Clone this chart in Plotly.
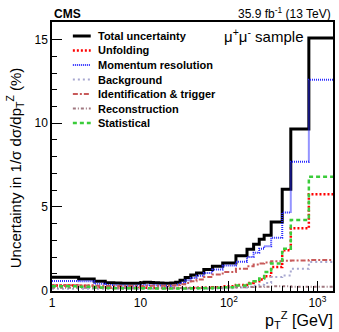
import plotly.graph_objects as go

# ---------------- data ----------------
edges = [1, 2, 3, 4, 5, 6, 7, 8, 9, 10, 11, 12, 13, 14, 16, 18, 20, 22, 25, 28,
         32, 37, 43, 52, 65, 85, 120, 160, 190, 220, 250, 300, 400, 500, 800, 1500]

total = [0.79, 0.68, 0.55, 0.47, 0.45, 0.44, 0.43, 0.43, 0.44, 0.46,
         0.50, 0.50, 0.48, 0.47, 0.45, 0.44, 0.44, 0.45, 0.50, 0.62,
         0.78, 0.92, 1.05, 1.25, 1.45, 1.65, 2.07, 2.47, 2.77, 3.07,
         3.30, 4.10, 6.05, 9.65, 15.1]
unfolding = [0.30, 0.28, 0.20, 0.16, 0.15, 0.15, 0.15, 0.15, 0.15, 0.15,
             0.16, 0.16, 0.15, 0.15, 0.15, 0.15, 0.15, 0.15, 0.15, 0.15,
             0.15, 0.15, 0.16, 0.17, 0.20, 0.25, 0.33, 0.45, 0.55, 0.65,
             0.85, 1.40, 2.40, 3.72, 5.75]
momentum = [0.57, 0.55, 0.40, 0.33, 0.31, 0.30, 0.29, 0.29, 0.30, 0.31,
            0.33, 0.33, 0.32, 0.31, 0.30, 0.29, 0.29, 0.30, 0.34, 0.47,
            0.62, 0.75, 0.88, 1.05, 1.25, 1.50, 1.72, 2.00, 2.25, 2.50,
            2.65, 3.15, 4.66, 7.70, 12.6]
background = [0.10, 0.10, 0.10, 0.10, 0.10, 0.10, 0.10, 0.10, 0.10, 0.10,
              0.10, 0.10, 0.10, 0.10, 0.10, 0.10, 0.10, 0.10, 0.10, 0.10,
              0.10, 0.10, 0.10, 0.11, 0.12, 0.14, 0.18, 0.22, 0.28, 0.35,
              0.45, 0.80, 0.90, 1.30, 1.70]
ident = [0.32, 0.30, 0.28, 0.27, 0.27, 0.27, 0.27, 0.27, 0.27, 0.27,
         0.28, 0.28, 0.28, 0.28, 0.28, 0.28, 0.29, 0.30, 0.33, 0.38,
         0.45, 0.55, 0.65, 0.80, 0.95, 1.10, 1.30, 1.45, 1.55, 1.62,
         1.68, 1.75, 1.78, 1.80, 1.82]
reco = [0.16, 0.16, 0.15, 0.15, 0.15, 0.15, 0.15, 0.15, 0.15, 0.15,
        0.15, 0.15, 0.15, 0.15, 0.15, 0.15, 0.15, 0.15, 0.15, 0.15,
        0.15, 0.15, 0.16, 0.16, 0.17, 0.18, 0.20, 0.21, 0.22, 0.22,
        0.23, 0.25, 0.25, 0.22, 0.22]
stat = [0.25, 0.22, 0.18, 0.15, 0.13, 0.13, 0.13, 0.13, 0.13, 0.13,
        0.13, 0.13, 0.13, 0.12, 0.12, 0.12, 0.12, 0.12, 0.12, 0.12,
        0.12, 0.13, 0.13, 0.14, 0.16, 0.20, 0.30, 0.42, 0.55, 0.72,
        1.10, 1.62, 2.50, 4.22, 6.80]

x_tickvals = [1, 10, 100, 1000]
x_ticktext = ["1", "10", "10<sup>2</sup>", "10<sup>3</sup>"]
y_tickvals = [0, 5, 10, 15]

series = [
    ("Total uncertainty", total, "#000000", "solid", 3.0),
    ("Unfolding", unfolding, "#ff0000", "2px,2px", 2.5),
    ("Momentum resolution", momentum, "#2a2aff", "1px,1px", 2.0),
    ("Background", background, "#a8a8d0", "2px,3px", 2.0),
    ("Identification & trigger", ident, "#c85a5a", "5px,2px,2px,2px", 2.0),
    ("Reconstruction", reco, "#a07880", "3px,2px,1px,2px", 2.0),
    ("Statistical", stat, "#3acc3a", "4px,3px", 2.5),
]

FONT = "Liberation Sans, Arial, Helvetica, sans-serif"
W, H = 339, 332
ML, MR, MT, MB = 52, 4, 22, 41
PW, PH = W - ML - MR, H - MT - MB


def px(x):
    return (x - ML) / PW


def py(y):
    return (H - MB - y) / PH


fig = go.Figure()
for name, vals, color, dash, width in series:
    fig.add_trace(go.Scatter(
        x=edges, y=vals + [vals[-1]], mode="lines", name=name,
        line=dict(shape="hv", color=color, dash=dash, width=width),
        showlegend=False,
    ))

shapes = []
annotations = []
# manual legend (ROOT-style compact legend)
for i, (name, vals, color, dash, width) in enumerate(series):
    yy = 36 + i * 14.5
    shapes.append(dict(type="line", xref="paper", yref="paper",
                       x0=px(73), x1=px(91), y0=py(yy), y1=py(yy),
                       line=dict(color=color, dash=dash, width=width)))
    annotations.append(dict(xref="paper", yref="paper", x=px(96), y=py(yy),
                            text="<b>" + name.replace("&", "&amp;") + "</b>",
                            showarrow=False, xanchor="left", yanchor="middle",
                            font=dict(family=FONT, size=11, color="black")))

annotations += [
    dict(xref="paper", yref="paper", x=0, y=py(14), text="<b>CMS</b>",
         showarrow=False, xanchor="left", yanchor="middle",
         font=dict(family=FONT, size=12, color="black")),
    dict(xref="paper", yref="paper", x=1, y=py(13),
         text="35.9 fb<sup>-1</sup> (13 TeV)", showarrow=False,
         xanchor="right", yanchor="middle",
         font=dict(family=FONT, size=12, color="black")),
    dict(xref="paper", yref="paper", x=px(307), y=py(36),
         text="μ<sup>+</sup>μ<sup>-</sup> sample", showarrow=False,
         xanchor="right", yanchor="middle",
         font=dict(family=FONT, size=15, color="black")),
    dict(xref="paper", yref="paper", x=px(337), y=py(320),
         text="p<sub>T</sub><sup>Z</sup> [GeV]", showarrow=False,
         xanchor="right", yanchor="middle",
         font=dict(family=FONT, size=16, color="black")),
    dict(xref="paper", yref="paper", x=px(14), y=py(168),
         text="Uncertainty in 1/σ dσ/dp<sub>T</sub><sup>Z</sup> (%)",
         showarrow=False, textangle=-90, xanchor="center", yanchor="middle",
         font=dict(family=FONT, size=15, color="black")),
]

minor_x = [m * 10 ** d for d in range(0, 4) for m in range(2, 10) if m * 10 ** d <= 1500]

fig.update_layout(
    width=W, height=H,
    margin=dict(l=ML, r=MR, t=MT, b=MB, pad=0),
    paper_bgcolor="white", plot_bgcolor="white",
    shapes=shapes, annotations=annotations,
    font=dict(family=FONT, size=12, color="black"),
    xaxis=dict(type="log", range=[0, 3.1761], showgrid=False, zeroline=False,
               showline=True, mirror=True, linecolor="black", linewidth=1.5,
               ticks="inside", ticklen=10, tickwidth=1, tickcolor="black",
               tickvals=x_tickvals, ticktext=x_ticktext,
               tickfont=dict(family=FONT, size=12),
               minor=dict(tickvals=minor_x, ticks="inside", ticklen=5,
                          tickwidth=1, tickcolor="black", showgrid=False)),
    yaxis=dict(range=[-0.03, 16.05], showgrid=False, zeroline=False,
               showline=True, mirror=True, linecolor="black", linewidth=1.5,
               ticks="inside", ticklen=10, tickwidth=1, tickcolor="black",
               tickvals=y_tickvals, tickfont=dict(family=FONT, size=12),
               minor=dict(dtick=1, ticks="inside", ticklen=5, tickwidth=1,
                          tickcolor="black", showgrid=False)),
)

fig.write_html("out.html")
